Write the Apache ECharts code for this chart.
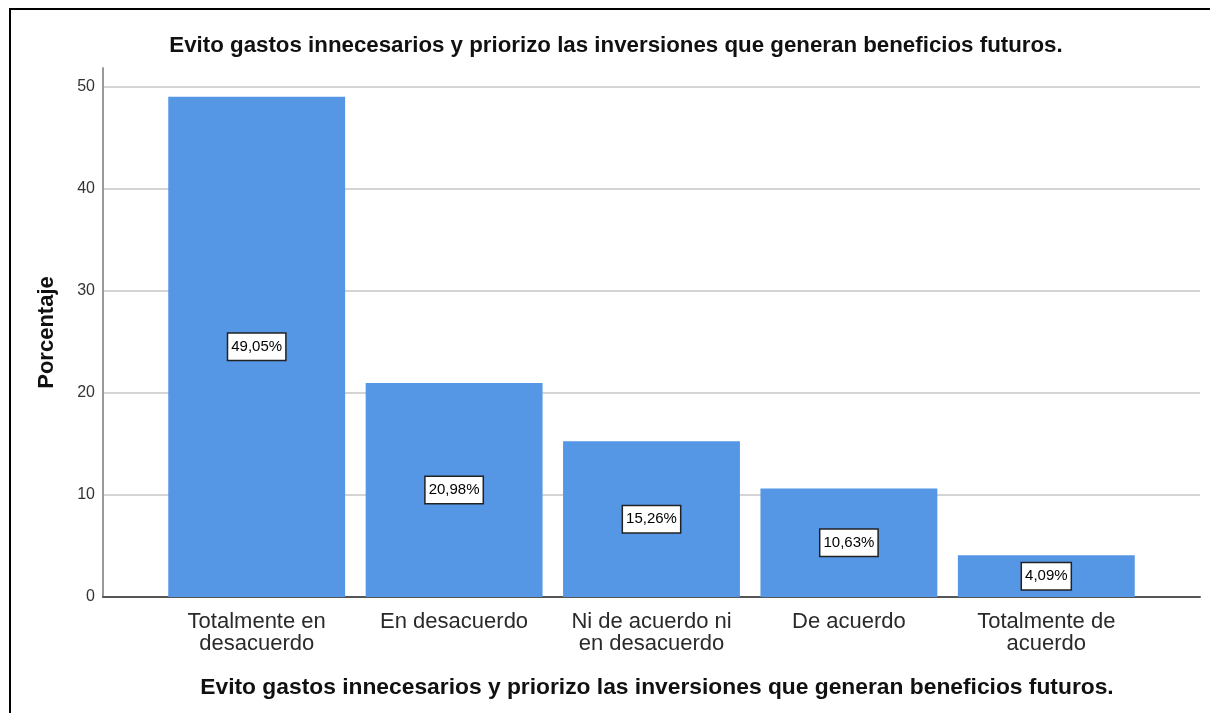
<!DOCTYPE html>
<html>
<head>
<meta charset="utf-8">
<script src="https://cdn.jsdelivr.net/npm/echarts@6/dist/echarts.min.js"></script>
<style>
html,body{margin:0;padding:0;background:#fff;}
#frame{position:absolute;left:9px;top:8px;width:1201px;height:705px;border-top:2px solid #000;border-left:2px solid #000;box-sizing:border-box;}
#chart{position:absolute;left:0;top:0;width:1210px;height:713px;}
</style>
</head>
<body>
<div id="frame"></div>
<div id="chart"></div>
<script>
const titleText = 'Evito gastos innecesarios y priorizo las inversiones que generan beneficios futuros.';
const categories = ['Totalmente en\ndesacuerdo', 'En desacuerdo', 'Ni de acuerdo ni\nen desacuerdo', 'De acuerdo', 'Totalmente de\nacuerdo'];
const percentages = [49.05, 20.98, 15.26, 10.63, 4.09];
const yTicks = [0, 10, 20, 30, 40, 50];

const FONT = 'Liberation Sans, Arial, sans-serif';
const chart = echarts.init(document.getElementById('chart'), null, {renderer: 'canvas'});
const yMax = 51.86;
const option = {
  animation: false,
  backgroundColor: 'transparent',
  title: {
    text: titleText,
    left: 611, top: 30, textAlign: 'center',
    textStyle: {fontFamily: FONT, fontSize: 22.3, fontWeight: 'bold', color: '#111'}
  },
  graphic: [{
    type: 'text', x: 657, y: 688,
    style: {text: titleText, fontFamily: FONT, fontSize: 22.8, fontWeight: 'bold', fill: '#111', align: 'center', verticalAlign: 'middle'}
  }],
  grid: [
    {left: 103, right: 10, top: 68, bottom: 116, containLabel: false},
    {left: 158, right: 65, top: 68, bottom: 116, containLabel: false}
  ],
  xAxis: [
    {gridIndex: 0, type: 'value', min: 0, max: 1, axisLabel: {show: false}, axisTick: {show: false}, splitLine: {show: false},
      axisLine: {show: true, onZero: false, lineStyle: {color: '#555', width: 2}}},
    {gridIndex: 1, type: 'category', data: categories, axisLine: {show: false}, axisTick: {show: false},
      axisLabel: {interval: 0, margin: 14, fontFamily: FONT, fontSize: 22, lineHeight: 22, color: '#2a2a2a'}}
  ],
  yAxis: [
    {gridIndex: 0, type: 'value', min: 0, max: yMax, interval: 10,
      name: 'Porcentaje', nameLocation: 'middle', nameGap: 45,
      nameTextStyle: {fontFamily: FONT, fontSize: 22, fontWeight: 'bold', color: '#111'},
      axisLine: {show: true, lineStyle: {color: '#999', width: 2}},
      axisTick: {show: false},
      axisLabel: {showMaxLabel: false, margin: 8, fontFamily: FONT, fontSize: 16, color: '#333',
        formatter: v => (yTicks.indexOf(v) >= 0 ? String(v) : '')},
      splitLine: {show: true, showMaxLine: false, lineStyle: {color: '#d4d4d4', width: 2}}
    },
    {gridIndex: 1, type: 'value', min: 0, max: yMax, interval: 10, show: false, splitLine: {show: false}}
  ],
  series: [{
    type: 'bar', xAxisIndex: 1, yAxisIndex: 1,
    data: percentages,
    barCategoryGap: '10.4%',
    itemStyle: {color: '#5596e5'},
    label: {
      show: true, position: 'inside',
      formatter: p => p.value.toFixed(2).replace('.', ',') + '%',
      fontFamily: FONT, fontSize: 15, color: '#000',
      backgroundColor: '#fff', borderColor: '#222', borderWidth: 1.5, padding: [6, 3, 5, 3]
    }
  }]
};
chart.setOption(option);
</script>
</body>
</html>
